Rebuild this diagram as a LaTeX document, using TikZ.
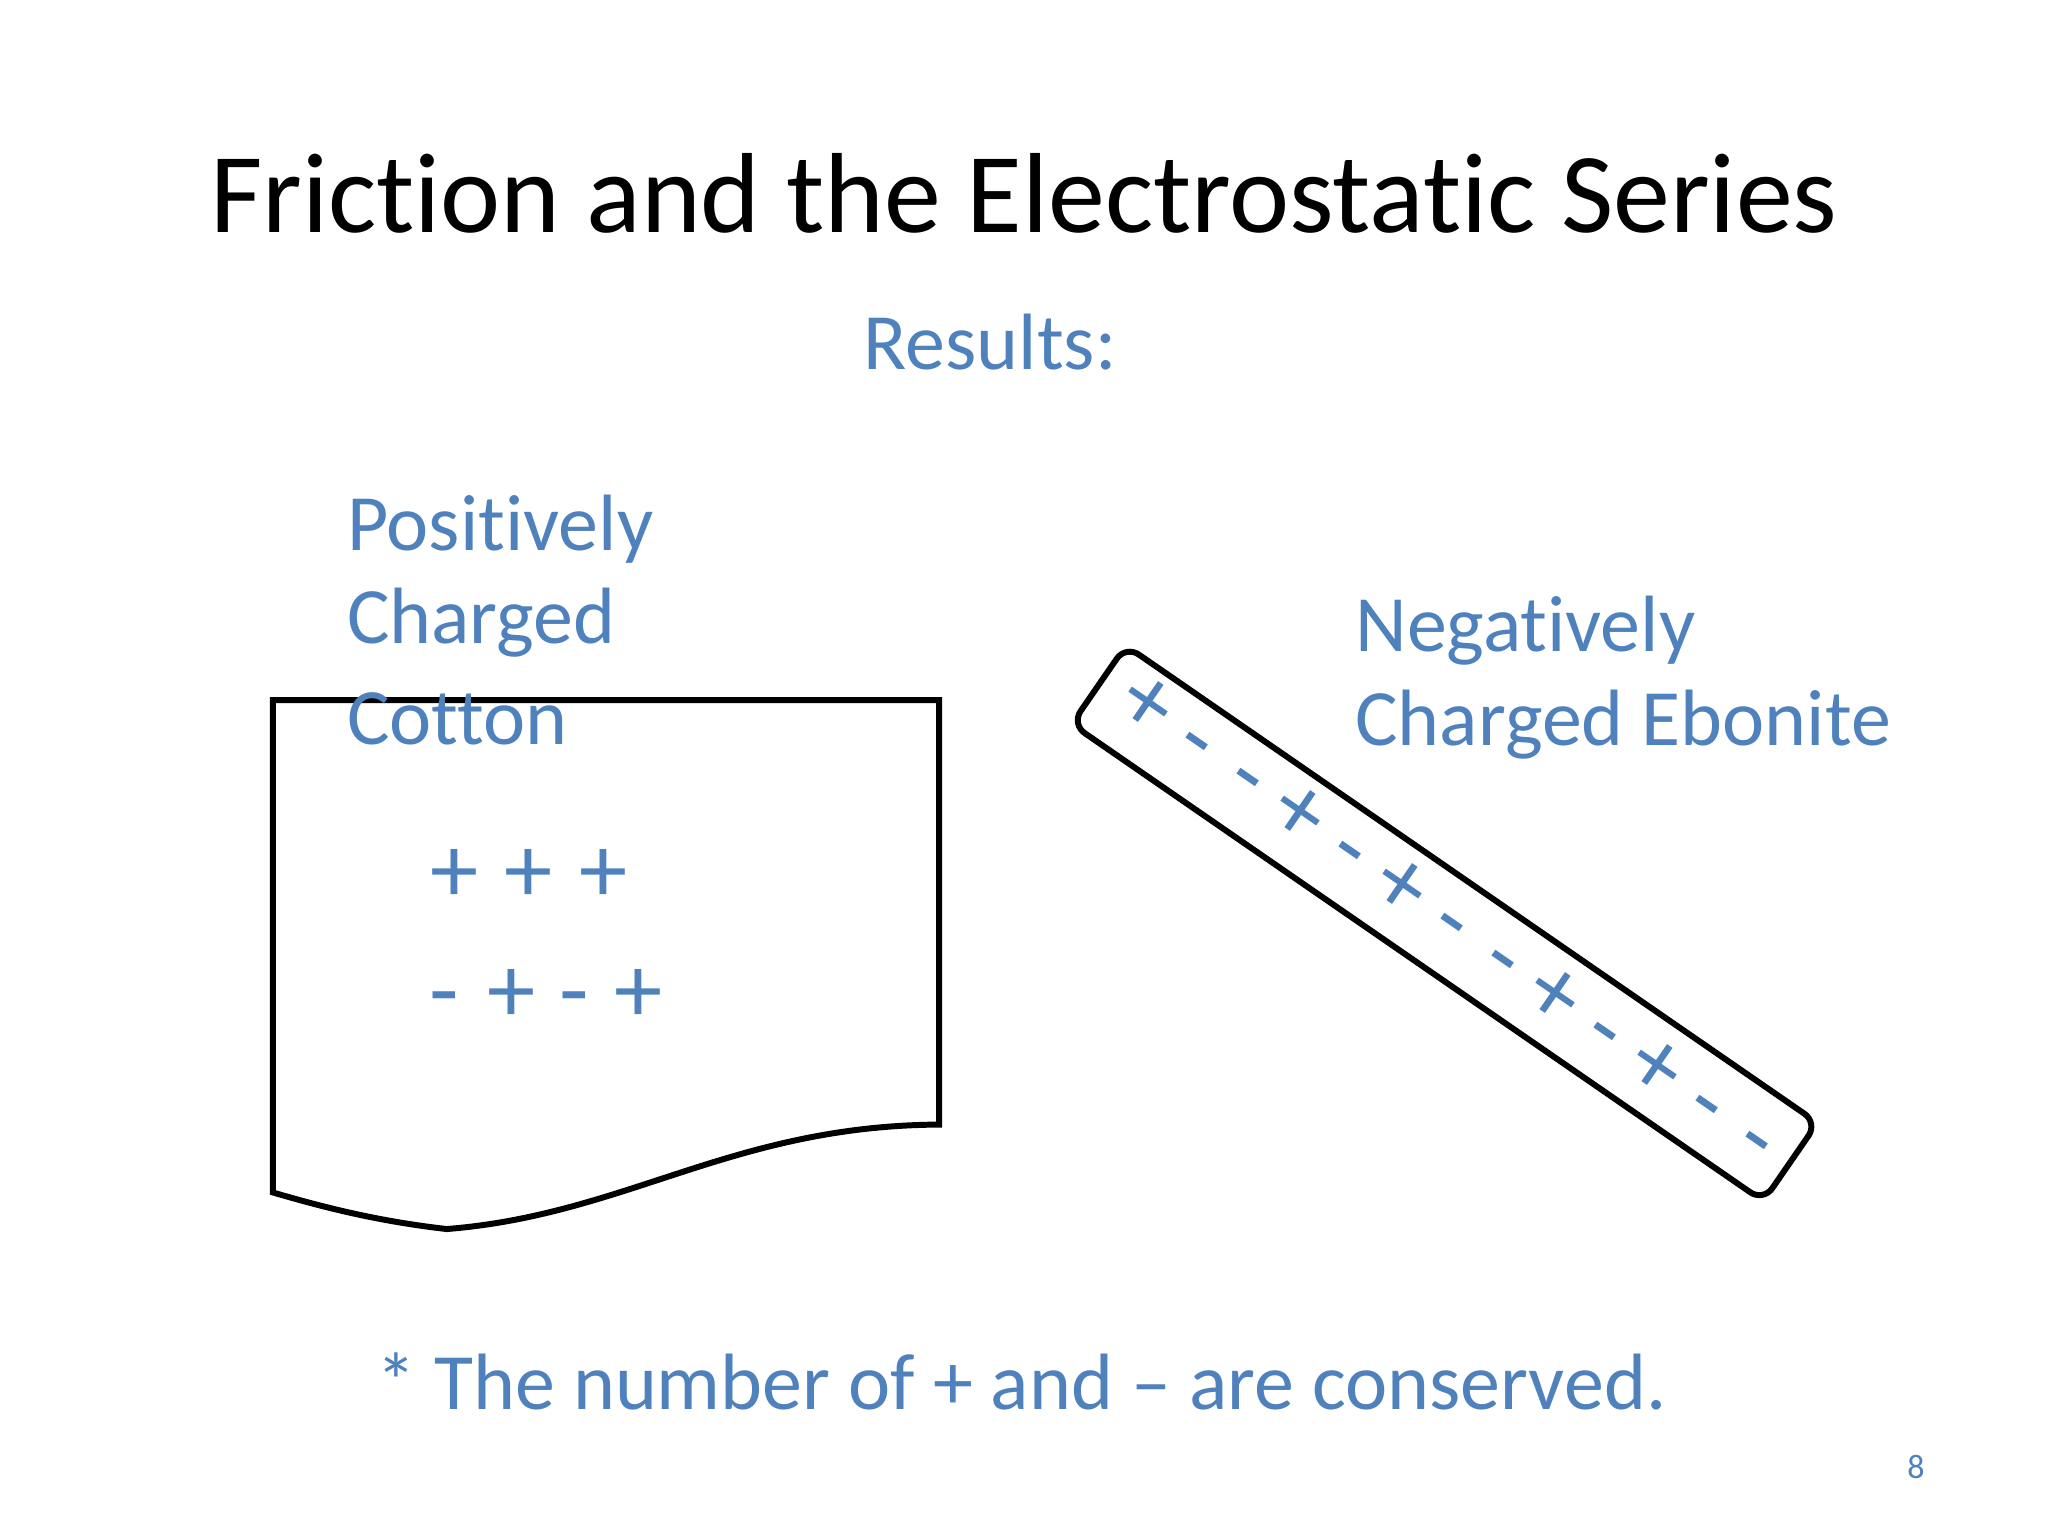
\documentclass[tikz,border=0pt]{standalone}
\usepackage{fontspec}
\setmainfont[Ligatures={NoCommon}]{Carlito}
\definecolor{bl}{RGB}{79,129,189}
\begin{document}
\begin{tikzpicture}[x=0.01cm,y=-0.01cm,
  bt/.style={text=bl,font=\fontsize{17.4}{21}\selectfont,inner sep=0pt},
  lt/.style={bt,anchor=west},
  ch/.style={text=bl,font=\fontsize{21}{24}\selectfont,inner sep=0pt,text height=0.62em,text depth=0pt},
  outl/.style={draw=black,line width=1.3pt}]
\useasboundingbox (0,0) rectangle (1568,1176);
\node[font=\fontsize{24.8}{30}\selectfont,inner sep=0pt] (title) at (784,148) {Friction and the Electrostatic Series};
\node[bt] (res) at (758,262) {Results:};
\draw[outl] (209,536) -- (719,536) -- (719,861) .. controls (560,862) and (480,930) .. (342,941) .. controls (290,935) and (250,925) .. (209,913) -- cycle;
\node[lt] (p1) at (265,405) {Positively};
\node[lt] (p2) at (265,477) {Charged};
\node[lt] (p3) at (265,550) {Cotton};
\foreach \s/\x [count=\i] in {+/348,+/405,+/462} \node[ch] (a\i) at (\x,680) {\s};
\foreach \s/\x [count=\i] in {-/340,+/392,-/440,+/489} \node[ch] (b\i) at (\x,772) {\s};
\node[outl,rectangle,rounded corners=0.12cm,minimum width=6.43cm,minimum height=0.73cm,rotate=-34.6] (rod) at (1106,707) {};
\foreach \s [count=\i from 0] in {+,-,-,+,-,+,-,-,+,-,+,-,-}
  \node[ch,rotate=-34.6] (r\i) at ({872+\i*39},{548+\i*27.8}) {\s};
\node[lt] (n1) at (1037,483) {Negatively};
\node[lt] (n2) at (1037,555) {Charged Ebonite};
\node[bt] (foot) at (782,1058) {* The number of + and – are conserved.};
\node[text=bl,font=\fontsize{7.4}{9}\selectfont,inner sep=0pt] (pg) at (1467,1123) {8};
\end{tikzpicture}
\end{document}
